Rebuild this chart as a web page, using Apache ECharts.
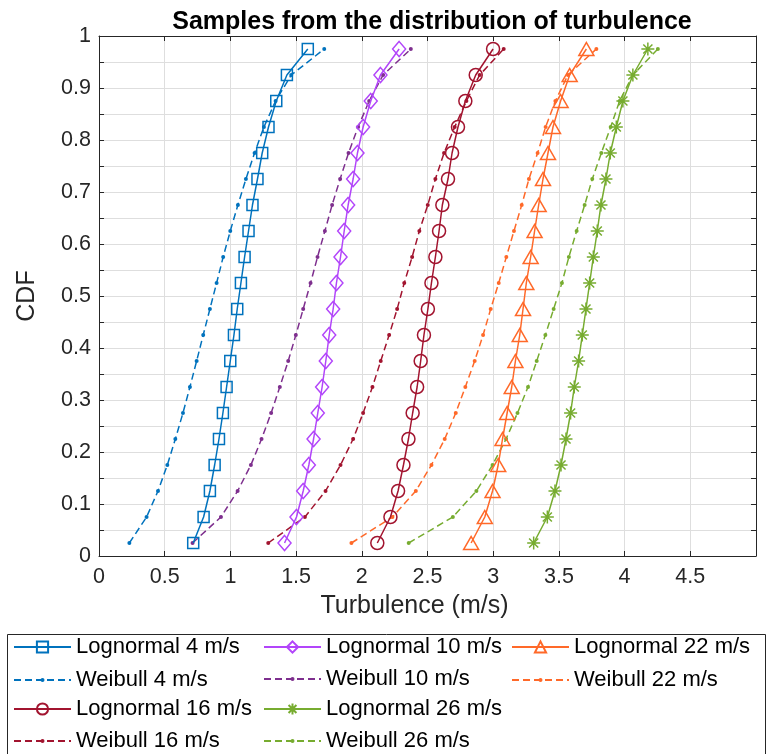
<!DOCTYPE html>
<html>
<head>
<meta charset="utf-8">
<script src="https://cdn.jsdelivr.net/npm/echarts@6/dist/echarts.min.js"></script>
<style>
html,body{margin:0;padding:0;background:#fff;}
#chart{width:768px;height:754px;}
</style>
</head>
<body>
<div id="chart"></div>
<script>
// CDF levels (y values shared by all series)
const cdfLevels = [0.025,0.075,0.125,0.175,0.225,0.275,0.325,0.375,0.425,0.475,0.525,0.575,0.625,0.675,0.725,0.775,0.825,0.875,0.925,0.975];

// Turbulence values (x) for each series
const logn4  = [0.717,0.796,0.844,0.880,0.913,0.943,0.971,0.999,1.027,1.052,1.080,1.108,1.138,1.168,1.206,1.242,1.290,1.349,1.430,1.589];
const weib4  = [0.231,0.362,0.449,0.520,0.581,0.639,0.692,0.743,0.793,0.844,0.895,0.945,0.999,1.057,1.118,1.184,1.255,1.344,1.463,1.714];
const logn10 = [1.412,1.503,1.554,1.597,1.633,1.665,1.698,1.726,1.752,1.782,1.807,1.838,1.866,1.896,1.934,1.967,2.010,2.068,2.142,2.284];
const weib10 = [0.712,0.928,1.055,1.156,1.237,1.310,1.376,1.440,1.498,1.554,1.610,1.663,1.719,1.774,1.835,1.899,1.972,2.056,2.162,2.373];
const logn16 = [2.118,2.218,2.276,2.317,2.355,2.387,2.421,2.448,2.473,2.503,2.530,2.560,2.588,2.613,2.656,2.687,2.732,2.788,2.867,2.999];
const weib16 = [1.288,1.567,1.724,1.838,1.934,2.010,2.081,2.144,2.208,2.269,2.323,2.383,2.438,2.502,2.560,2.626,2.707,2.796,2.897,3.080];
const logn22 = [2.832,2.936,2.995,3.038,3.071,3.106,3.141,3.169,3.202,3.227,3.252,3.285,3.315,3.346,3.379,3.417,3.455,3.513,3.582,3.709];
const weib22 = [1.921,2.233,2.411,2.530,2.631,2.715,2.788,2.859,2.923,2.981,3.042,3.100,3.158,3.217,3.272,3.338,3.399,3.473,3.569,3.785];
const logn26 = [3.308,3.412,3.470,3.516,3.554,3.589,3.617,3.650,3.678,3.706,3.734,3.762,3.792,3.820,3.858,3.891,3.937,3.987,4.063,4.177];
const weib26 = [2.357,2.693,2.872,2.995,3.098,3.185,3.265,3.331,3.397,3.460,3.523,3.576,3.635,3.696,3.754,3.823,3.894,3.962,4.063,4.253];

const seriesNames = ['Lognormal 4 m/s','Weibull 4 m/s','Lognormal 10 m/s','Weibull 10 m/s','Lognormal 16 m/s','Weibull 16 m/s','Lognormal 22 m/s','Weibull 22 m/s','Lognormal 26 m/s','Weibull 26 m/s'];
const xTickLabels = ['0','0.5','1','1.5','2','2.5','3','3.5','4','4.5'];
const yTickLabels = ['0','0.1','0.2','0.3','0.4','0.5','0.6','0.7','0.8','0.9','1'];

const FONT = "'Liberation Sans', Arial, Helvetica, sans-serif";
const asterisk = 'path://M0,-1L0,1M-1,0L1,0M-0.7,-0.7L0.7,0.7M-0.7,0.7L0.7,-0.7';

function pairs(xs){ return xs.map((x,i)=>[x, cdfLevels[i]]); }

function logSeries(name, xs, color, symbol, size){
  return {
    name, type:'line', data: pairs(xs), symbol, symbolSize: size,
    showSymbol:true, animation:false,
    lineStyle:{color, width:1.5, type:'solid'},
    itemStyle:{color: symbol===asterisk ? color : 'rgba(255,255,255,0)', borderColor: color, borderWidth:1.5},
    emphasis:{disabled:true}, z:3
  };
}
function weibSeries(name, xs, color){
  return {
    name, type:'line', data: pairs(xs), symbol:'circle', symbolSize:4,
    showSymbol:true, animation:false,
    lineStyle:{color, width:1.5, type:[7,4]},
    itemStyle:{color, borderWidth:0},
    emphasis:{disabled:true}, z:2
  };
}

const series = [
  logSeries(seriesNames[0], logn4, '#0072BD', 'rect', 11),
  weibSeries(seriesNames[1], weib4, '#0072BD'),
  logSeries(seriesNames[2], logn10, '#B245FA', 'diamond', [13,15]),
  weibSeries(seriesNames[3], weib10, '#7E2F8E'),
  logSeries(seriesNames[4], logn16, '#A2142F', 'circle', 13),
  weibSeries(seriesNames[5], weib16, '#A2142F'),
  logSeries(seriesNames[6], logn22, '#FF6929', 'triangle', [15,13]),
  weibSeries(seriesNames[7], weib22, '#FF6929'),
  logSeries(seriesNames[8], logn26, '#77AC30', asterisk, 13),
  weibSeries(seriesNames[9], weib26, '#77AC30'),
];

// legend layout: [name index, left, row centre]
const legendPos = [
  [0, 13, 647], [2, 263, 647], [6, 511, 647],
  [1, 13, 680], [3, 263, 679], [7, 511, 680],
  [4, 13, 709], [8, 263, 709],
  [5, 13, 741], [9, 263, 741]
];
const legends = legendPos.map(([i,l,c]) => {
  const weib = i % 2 === 1;
  return {
    data:[seriesNames[i]], left:l, top:c - 12, padding:0, itemGap:0,
    itemWidth:57, itemHeight: weib ? 5 : 14, selectedMode:false,
    textStyle:{fontFamily:FONT, fontSize:22, color:'#000', lineHeight:24}
  };
});

const axisCommon = {
  axisLine:{show:true, onZero:false, lineStyle:{color:'#262626', width:1}},
  axisTick:{show:true, inside:true, length:5, lineStyle:{color:'#262626'}},
};

const option = {
  backgroundColor:'#fff',
  animation:false,
  title:{
    text:'Samples from the distribution of turbulence',
    left:427, top:5, textAlign:'center',
    textStyle:{fontFamily:FONT, fontWeight:'bold', fontSize:25, color:'#000'}
  },
  legend: legends,
  grid:{left:99, top:36, right:12, bottom:198, containLabel:false},
  xAxis:[
    Object.assign({
      type:'value', min:0, max:5, interval:0.5, position:'bottom',
      name:'Turbulence (m/s)', nameLocation:'middle', nameGap:38,
      nameTextStyle:{fontFamily:FONT, fontSize:25, color:'#262626', padding:[0,26,0,0]},
      axisLabel:{fontFamily:FONT, fontSize:21.5, color:'#262626', margin:10,
        formatter:(v)=>{ const k=Math.round(v*2); return k<xTickLabels.length ? xTickLabels[k] : ''; }},
      splitLine:{show:true, lineStyle:{color:'#dedede', width:1}}
    }, axisCommon),
    Object.assign({
      type:'value', min:0, max:5, interval:0.5, position:'top',
      axisLabel:{show:false}, splitLine:{show:false}
    }, axisCommon)
  ],
  yAxis:[
    Object.assign({
      type:'value', min:0, max:1, interval:0.05, position:'left',
      name:'CDF', nameLocation:'middle', nameGap:59, nameRotate:90,
      nameTextStyle:{fontFamily:FONT, fontSize:25, color:'#262626'},
      axisLabel:{fontFamily:FONT, fontSize:21.5, color:'#262626', margin:8,
        formatter:(v)=>{ const r=Math.round(v*100); return r%10===0 ? yTickLabels[r/10] : ''; }},
      splitLine:{show:true, lineStyle:{color:'#dedede', width:1}}
    }, axisCommon),
    Object.assign({
      type:'value', min:0, max:1, interval:0.05, position:'right',
      axisLabel:{show:false}, splitLine:{show:false}
    }, axisCommon)
  ],
  graphic:[{
    type:'rect', left:5, top:632, silent:true, z:-1,
    shape:{width:758, height:130},
    style:{fill:'none', stroke:'#262626', lineWidth:1}
  }],
  series
};

const chart = echarts.init(document.getElementById('chart'), null, {renderer:'canvas'});
chart.setOption(option);
</script>
</body>
</html>
